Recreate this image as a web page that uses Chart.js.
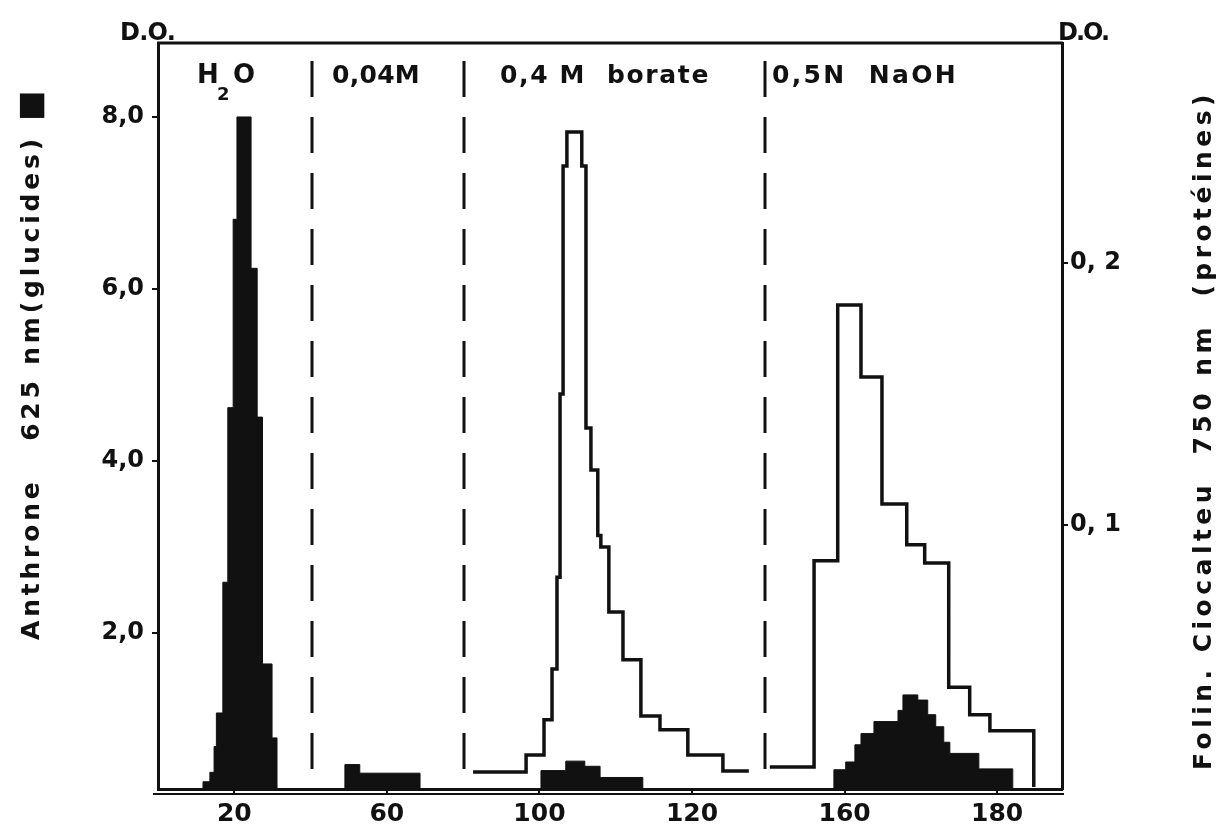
<!DOCTYPE html>
<html>
<head>
<meta charset="utf-8">
<title>Fractionnement - anthrone / Folin</title>
<script src="https://cdn.jsdelivr.net/npm/chart.js@4.4.1/dist/chart.umd.min.js"></script>
<style>
  body { margin: 0; background: #fff; }
  canvas { display: block; }
</style>
</head>
<body>
<canvas id="chart" width="1224" height="826"></canvas>
<script>
// the fraction ticks sit at even spacing on the figure, labels are not linear
var xTickValues = [20, 60, 100, 140, 180, 220];
var xTickLabels = ["20", "60", "100", "120", "160", "180"];
var leftTickValues = [2, 4, 6, 8];
var leftTickLabels = ["2,0", "4,0", "6,0", "8,0"];
var rightTickValues = [0.1, 0.2];
var rightTickLabels = ["0, 1", "0, 2"];

var sectionBounds = [40.4, 80.2, 159.1];

// Anthrone 625 nm (glucides), black steps: fraction edges + D.O.
var anthroneH2oEdges = [11.8, 13.6, 14.7, 15.3, 17.0, 18.3, 19.7, 20.7, 24.4, 26.0, 27.4, 29.9, 31.2];
var anthroneH2o = [0.27, 0.38, 0.68, 1.07, 2.59, 4.62, 6.81, 8.0, 6.24, 4.51, 1.64, 0.78];
var anthrone004Edges = [49.0, 52.9, 68.7];
var anthrone004 = [0.47, 0.37];
var anthroneBorateEdges = [100.4, 106.9, 111.9, 115.9, 127.1];
var anthroneBorate = [0.40, 0.51, 0.45, 0.32];
var anthroneNaohEdges = [177.2, 180.3, 182.7, 184.3, 187.7, 194.0, 195.3, 199.2, 201.8, 203.9, 206.0, 207.6, 215.2, 224.1];
var anthroneNaoh = [0.41, 0.50, 0.70, 0.83, 0.97, 1.10, 1.28, 1.22, 1.05, 0.91, 0.73, 0.60, 0.42];

// Folin-Ciocalteu 750 nm (proteines), open steps
var folinBorateEdges = [82.6, 96.5, 101.2, 103.3, 104.6, 105.4, 106.2, 107.2, 111.1, 112.2, 113.5, 115.3, 116.1, 118.2, 121.9, 126.6, 131.6, 138.9, 148.1, 154.9];
var folinBorate = [0.0057, 0.0122, 0.0256, 0.045, 0.080, 0.150, 0.237, 0.250, 0.237, 0.137, 0.121, 0.096, 0.0916, 0.0668, 0.0485, 0.0271, 0.0218, 0.0122, 0.0061];
var folinNaohEdges = [160.4, 172.0, 178.2, 184.3, 189.8, 196.3, 201.0, 207.3, 212.8, 218.1, 229.6];
var folinNaoh = [0.0076, 0.0863, 0.184, 0.1565, 0.108, 0.0924, 0.0855, 0.038, 0.0275, 0.0214];

var ink = "#111";
var face = '"DejaVu Sans", "Liberation Sans", sans-serif';

function islandPoints(edges, values, points) {
  points.push({ x: edges[0], y: 0 });
  for (var i = 0; i < values.length; i++) {
    points.push({ x: edges[i], y: values[i] });
  }
  points.push({ x: edges[edges.length - 1], y: 0 });
}

function stepPoints(edges, values, endValue, points) {
  for (var i = 0; i < values.length; i++) {
    points.push({ x: edges[i], y: values[i] });
  }
  points.push({ x: edges[edges.length - 1], y: endValue });
}

var anthronePoints = [];
islandPoints(anthroneH2oEdges, anthroneH2o, anthronePoints);
islandPoints(anthrone004Edges, anthrone004, anthronePoints);
islandPoints(anthroneBorateEdges, anthroneBorate, anthronePoints);
islandPoints(anthroneNaohEdges, anthroneNaoh, anthronePoints);

var folinPoints = [];
stepPoints(folinBorateEdges, folinBorate, folinBorate[folinBorate.length - 1], folinPoints);
folinPoints.push({ x: 157, y: null });
stepPoints(folinNaohEdges, folinNaoh, 0, folinPoints);

function spacedText(ctx, text, x, y, width) {
  ctx.letterSpacing = "0px";
  var w = ctx.measureText(text).width;
  ctx.letterSpacing = ((width - w) / text.length) + "px";
  ctx.fillText(text, x, y);
  ctx.letterSpacing = "0px";
}

var decorations = {
  id: "decorations",
  beforeDatasetsDraw: function(chart) {
    var ctx = chart.ctx, a = chart.chartArea, xs = chart.scales.x;
    ctx.save();
    ctx.strokeStyle = ink;
    ctx.lineWidth = 3;
    ctx.setLineDash([36, 20]);
    sectionBounds.forEach(function(v) {
      var px = Math.round(xs.getPixelForValue(v));
      ctx.beginPath();
      ctx.moveTo(px, a.top + 18);
      ctx.lineTo(px, a.bottom);
      ctx.stroke();
    });
    ctx.setLineDash([]);
    ctx.beginPath();
    ctx.moveTo(a.left - 1, a.top);
    ctx.lineTo(a.right + 1, a.top);
    ctx.stroke();
    ctx.lineWidth = 2;
    ctx.beginPath();
    ctx.moveTo(a.left - 5, a.bottom + 5);
    ctx.lineTo(a.right + 2, a.bottom + 5);
    ctx.stroke();
    ctx.restore();
  },
  afterDraw: function(chart) {
    var ctx = chart.ctx;
    ctx.save();
    ctx.fillStyle = ink;
    ctx.textAlign = "left";
    ctx.textBaseline = "alphabetic";

    ctx.font = "bold 24px " + face;
    spacedText(ctx, "D.O.", 120, 40, 55);
    spacedText(ctx, "D.O.", 1058, 40, 50);

    // section headers
    ctx.font = "bold 26px " + face;
    ctx.fillText("H", 197, 83);
    ctx.font = "bold 18px " + face;
    ctx.fillText("2", 217, 100);
    ctx.font = "bold 26px " + face;
    ctx.fillText("O", 233, 83);
    ctx.font = "bold 25px " + face;
    spacedText(ctx, "0,04M", 332, 83, 88);
    spacedText(ctx, "0,4 M  borate", 500, 83, 210);
    spacedText(ctx, "0,5N  NaOH", 772, 83, 186);

    // axis titles, read bottom to top
    ctx.font = "bold 25px " + face;
    ctx.textBaseline = "middle";
    ctx.save();
    ctx.translate(32, 640);
    ctx.rotate(-Math.PI / 2);
    spacedText(ctx, "Anthrone   625 nm(glucides)", 0, 0, 505);
    ctx.restore();
    ctx.save();
    ctx.translate(1204, 770);
    ctx.rotate(-Math.PI / 2);
    spacedText(ctx, "Folin. Ciocalteu  750 nm  (protéines)", 0, 0, 680);
    ctx.restore();
    ctx.font = "bold 32px " + face;
    ctx.textAlign = "center";
    ctx.fillText("\u25A0", 32, 106);
    ctx.restore();
  }
};

var tickFont = { family: face, size: 24, weight: "bold" };

var chart = new Chart(document.getElementById("chart"), {
  type: "line",
  data: {
    datasets: [
      {
        label: "Folin. Ciocalteu 750 nm (protéines)",
        data: folinPoints,
        yAxisID: "y1",
        stepped: "before",
        borderColor: ink,
        borderWidth: 3.5,
        pointRadius: 0,
        fill: false,
        spanGaps: false
      },
      {
        label: "Anthrone 625 nm (glucides)",
        data: anthronePoints,
        yAxisID: "y",
        stepped: "before",
        borderColor: ink,
        borderWidth: 1,
        backgroundColor: ink,
        pointRadius: 0,
        fill: "start"
      }
    ]
  },
  options: {
    responsive: false,
    animation: false,
    devicePixelRatio: 1,
    layout: { padding: { top: 43, left: 0, right: 0, bottom: 0 } },
    plugins: {
      legend: { display: false },
      tooltip: { enabled: false }
    },
    scales: {
      x: {
        type: "linear",
        min: 0,
        max: 237,
        afterFit: function(s) { s.height = 37; },
        afterBuildTicks: function(s) {
          s.ticks = xTickValues.map(function(v) { return { value: v }; });
        },
        ticks: {
          autoSkip: false,
          maxRotation: 0,
          padding: 4,
          color: ink,
          font: { family: face, size: 25, weight: "bold" },
          callback: function(v) { return xTickLabels[xTickValues.indexOf(v)]; }
        },
        grid: { drawOnChartArea: false, color: ink, lineWidth: 2, tickLength: 6 },
        border: { color: ink, width: 3 }
      },
      y: {
        type: "linear",
        position: "left",
        min: 0.186,
        max: 8.86,
        afterFit: function(s) { s.width = 158; },
        afterBuildTicks: function(s) {
          s.ticks = leftTickValues.map(function(v) { return { value: v }; });
        },
        ticks: {
          padding: 8,
          color: ink,
          font: tickFont,
          callback: function(v) { return leftTickLabels[leftTickValues.indexOf(v)]; }
        },
        grid: { drawOnChartArea: false, color: ink, lineWidth: 2, tickLength: 6 },
        border: { color: ink, width: 3 }
      },
      y1: {
        type: "linear",
        position: "right",
        min: -0.0008,
        max: 0.284,
        afterFit: function(s) { s.width = 162; },
        afterBuildTicks: function(s) {
          s.ticks = rightTickValues.map(function(v) { return { value: v }; });
        },
        ticks: {
          padding: 2,
          color: ink,
          font: tickFont,
          callback: function(v) { return rightTickLabels[rightTickValues.indexOf(v)]; }
        },
        grid: { drawOnChartArea: false, color: ink, lineWidth: 2, tickLength: 6 },
        border: { color: ink, width: 3 }
      }
    }
  },
  plugins: [decorations]
});
</script>
</body>
</html>
